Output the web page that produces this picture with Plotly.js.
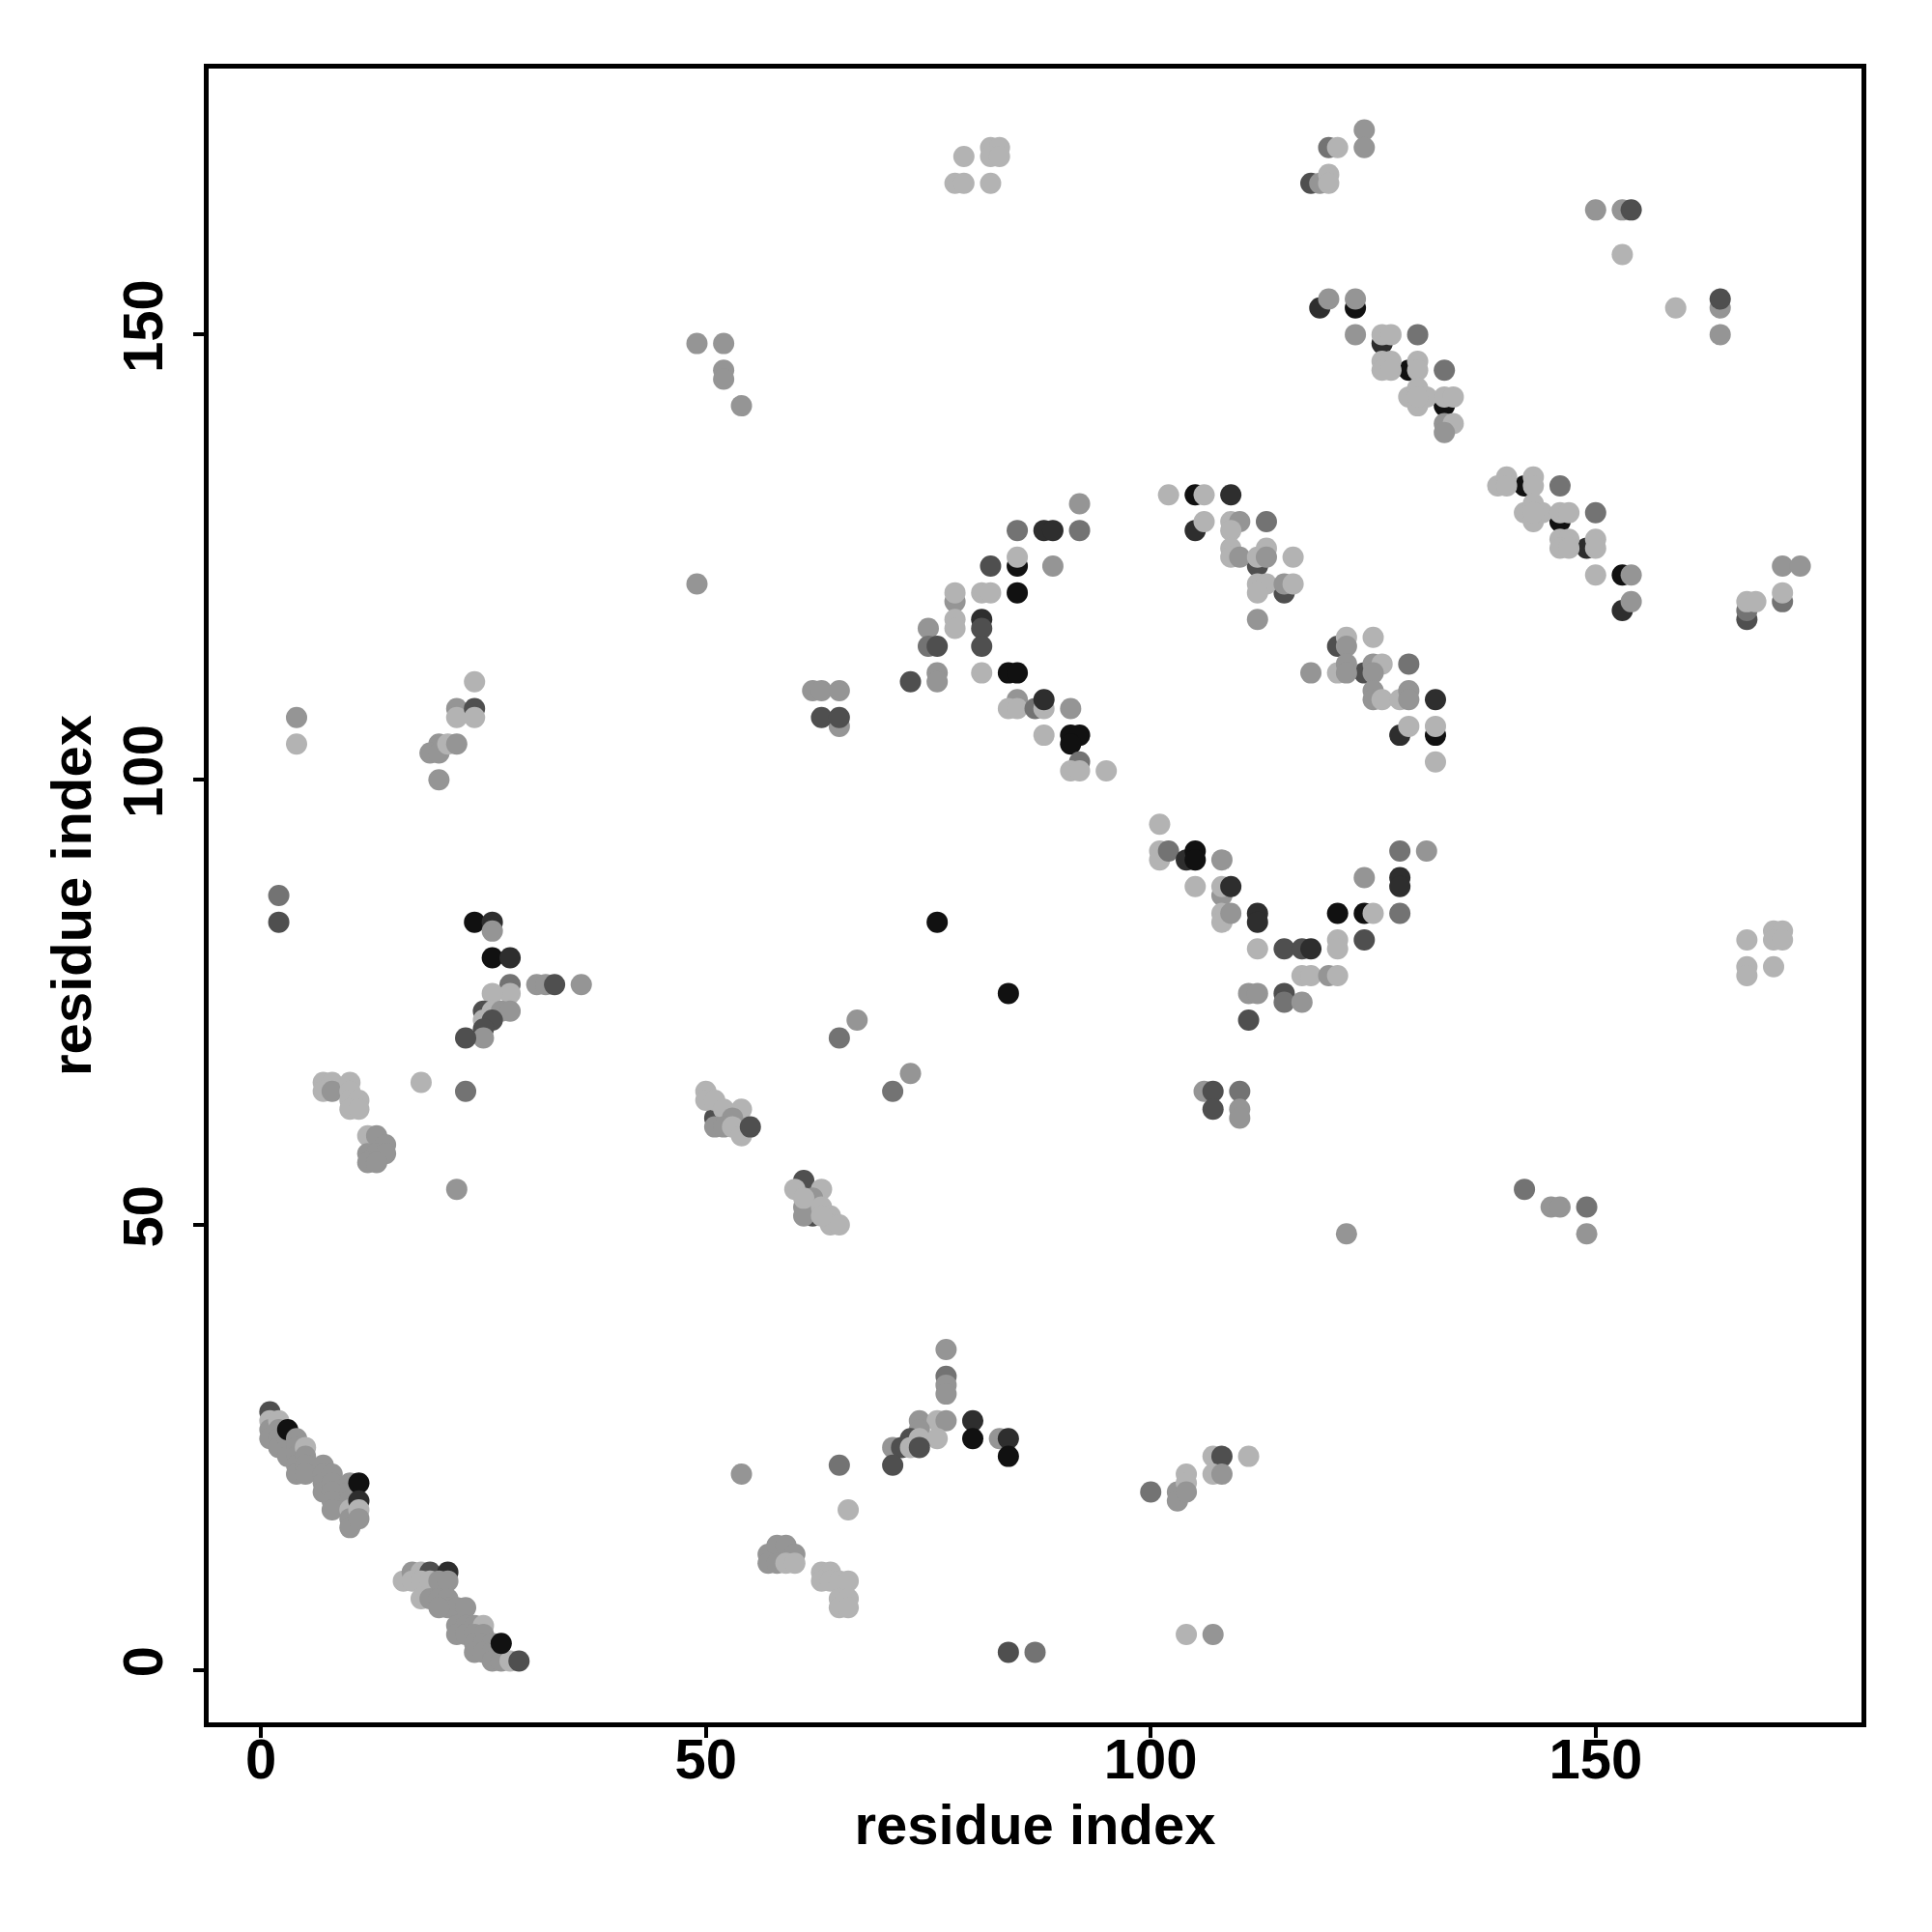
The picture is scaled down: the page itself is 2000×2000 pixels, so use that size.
<!DOCTYPE html>
<html>
<head>
<meta charset="utf-8">
<script src="https://cdn.plot.ly/plotly-3.0.1.min.js"></script>
<style>html,body{margin:0;padding:0;background:#fff;}#chart{width:2000px;height:2000px;}</style>
</head>
<body>
<div id="chart"></div>
<script>
// residue pairs (x index, y index) and shade level (1 = darkest ... 6 = lightest)
const residueX = [
1,1,1,1,2,2,2,2,3,3,3,3,4,4,4,4,4,5,5,5,5,7,7,7,7,8,8,8,8,8,10,10,10,10,10,10,11,11,11,11,
16,17,18,19,21,17,18,19,20,21,18,19,20,21,21,22,23,20,22,23,24,25,22,23,24,25,24,25,26,24,25,26,26,27,28,27,29,
24,22,22,24,24,20,19,20,21,22,20,4,4,2,2,
24,26,26,26,28,28,28,26,31,32,33,36,25,26,27,28,25,26,25,25,23,
7,8,7,8,10,10,10,11,10,11,18,23,13,12,13,14,12,13,14,12,13,22,
77,77,77,77,74,76,77,80,74,73,74,76,80,83,84,71,72,73,74,71,84,65,54,66,
58,57,58,59,60,57,58,59,60,63,64,63,64,65,66,65,66,65,66,84,87,
100,103,103,104,104,104,107,108,111,107,108,104,107,
67,65,73,71,51,52,50,50,51,52,54,53,51,52,53,54,55,
62,61,61,61,60,63,62,61,63,64,64,65,63,
79,82,83,82,83,78,79,82,49,52,52,52,54,49,
92,85,88,89,92,85,85,82,89,78,78,81,82,85,75,78,78,81,81,75,76,81,73,76,76,81,84,85,
62,63,65,65,63,65,85,84,85,87,88,88,91,88,91,92,91,92,91,92,95,76,84,
105,102,106,109,105,106,109,110,109,113,112,109,109,110,112,113,113,116,115,112,113,112,115,116,112,
121,122,122,125,124,118,121,122,122,125,126,125,129,125,125,126,128,129,129,132,128,129,132,132,132,101,
101,101,102,104,105,105,108,105,108,108,109,108,108,109,112,112,112,115,117,118,121,124,125,128,121,121,124,
124,128,128,128,131,117,118,120,121,111,112,115,115,117,111,106,107,110,107,110,110,
124,120,121,124,118,119,120,120,150,153,154,153,159,164,164,164,119,120,123,123,126,123,126,127,130,
129,126,127,126,127,130,130,133,133,129,130,130,131,130,133,134,133,134,133,
142,139,140,140,143,143,146,146,142,143,143,144,143,146,147,150,149,146,147,146,147,150,150,
153,150,154,153,154,167,167,167,168,171,171,171,173,
167,170,171,170,171,167,167,170,142,145,146,149,149,122
];
const residueY = [
29,28,27,26,28,27,26,25,26,25,24,27,26,25,24,23,22,25,24,23,22,23,22,21,20,22,21,20,19,18,21,20,19,18,17,16,21,19,18,17,
10,11,11,11,11,10,10,10,10,10,8,8,8,8,7,7,7,7,5,5,5,5,4,4,4,4,3,3,3,2,2,2,1,1,1,3,1,
111,108,107,108,107,104,103,103,104,104,100,107,104,87,84,
84,84,83,80,80,77,76,76,77,77,77,77,74,74,74,74,73,73,72,71,71,
66,66,65,65,66,65,64,64,63,63,66,65,59,60,60,59,58,58,58,57,57,54,
36,33,32,31,28,28,28,28,27,26,26,26,26,26,26,25,25,25,25,23,24,23,22,18,
13,13,14,14,13,12,12,12,12,11,11,10,10,10,10,8,8,7,7,2,2,
20,20,19,22,21,20,24,24,24,22,22,4,4,
73,71,67,65,62,62,65,64,64,63,63,62,61,61,61,60,61,
51,55,52,51,54,54,53,53,52,51,50,50,51,
170,171,171,170,170,167,167,167,149,149,146,145,142,122,
131,128,128,128,128,124,125,124,124,120,121,121,121,121,117,118,117,118,117,115,115,115,111,112,111,112,112,112,
110,110,110,106,107,107,109,108,108,108,108,109,108,105,105,105,104,102,101,101,101,84,76,
132,132,132,132,128,129,129,129,128,129,124,126,125,125,125,126,125,125,121,122,122,121,122,122,118,
115,116,115,116,112,112,112,113,112,113,113,112,113,110,109,109,109,110,109,109,105,106,105,106,102,95,
92,91,92,91,92,91,91,88,87,88,88,85,84,85,85,84,81,81,81,81,85,85,85,85,82,81,82,
89,89,88,92,92,78,78,78,78,76,76,76,75,75,73,65,65,65,63,63,62,
173,171,171,171,167,167,168,167,164,164,164,159,153,153,154,150,153,154,153,154,149,150,150,150,150,
146,147,147,146,146,147,146,146,142,143,144,142,143,143,143,143,140,140,139,
133,133,134,133,134,133,133,129,130,131,129,130,130,130,130,130,126,127,127,126,126,127,126,
123,123,123,119,120,118,119,120,120,120,121,124,124,
82,83,83,82,82,79,78,79,54,52,52,52,49,49
];
const shadeLevel = [
3,6,5,5,6,5,5,5,5,5,5,1,5,5,5,5,5,6,5,5,5,5,5,5,5,5,5,5,5,5,5,5,5,6,5,5,1,2,6,5,
6,5,6,3,2,6,6,6,5,5,6,5,5,5,5,5,5,5,5,5,5,6,5,5,5,5,5,5,5,5,5,5,5,5,6,1,3,
6,5,6,3,6,5,5,5,6,5,5,5,6,4,3,
1,2,5,1,2,4,6,6,5,5,3,5,3,6,5,5,6,3,3,5,3,
6,6,6,5,6,6,6,6,6,6,6,4,3,6,5,5,5,5,5,5,5,5,
5,4,5,5,5,6,5,2,5,3,6,6,1,5,2,5,3,6,3,3,1,4,5,6,
3,5,5,5,5,5,5,6,6,6,6,6,6,6,6,6,6,6,6,3,4,
4,5,5,6,6,5,6,3,6,6,5,6,5,
5,4,5,4,3,3,6,6,6,6,6,5,5,5,6,6,3,
3,3,5,5,6,6,5,6,6,6,6,6,6,
6,6,6,6,6,6,6,6,5,5,5,5,5,5,
5,4,2,2,4,1,6,3,5,5,6,6,6,1,5,6,6,2,3,4,3,3,3,5,5,6,1,1,
5,5,5,5,3,3,5,6,6,4,6,2,5,6,1,1,1,4,6,6,6,1,1,
1,6,6,2,2,6,6,5,6,4,3,6,6,5,6,6,5,6,3,6,6,6,5,6,5,
3,6,5,6,3,5,6,5,5,5,6,5,4,5,5,6,6,5,5,2,2,6,1,6,6,6,
6,6,4,2,1,1,5,6,5,6,2,6,6,5,2,2,6,3,3,2,1,1,6,4,6,6,3,
5,2,2,4,5,6,6,5,6,5,5,3,4,5,3,5,3,4,3,5,5,
5,4,6,5,3,5,6,6,5,5,3,6,6,5,3,5,2,5,1,5,2,5,6,6,4,
1,6,6,6,6,6,6,4,1,6,6,6,6,6,6,6,5,6,5,
1,6,6,6,6,6,4,1,6,6,6,6,6,6,6,4,2,6,6,6,6,6,6,
1,6,5,2,5,3,4,6,6,4,6,5,5,
6,6,6,6,6,6,6,6,4,5,5,4,5,5
];
const grayPalette = ['#111111', '#2e2e2e', '#4f4f4f', '#737373', '#959595', '#b3b3b3'];
const tickValues = [0, 50, 100, 150];
const axisLabel = 'residue index';

const n = Math.min(residueX.length, residueY.length, shadeLevel.length);
const trace = {
  type: 'scatter',
  mode: 'markers',
  x: residueX.slice(0, n),
  y: residueY.slice(0, n),
  marker: {
    size: 22,
    color: shadeLevel.slice(0, n).map(s => grayPalette[s - 1]),
    line: {width: 0},
    opacity: 1
  },
  hoverinfo: 'x+y',
  showlegend: false
};

const fontFamily = 'Liberation Sans, Arial, Helvetica, sans-serif';
const axisCommon = {
  range: [-5.88, 179.88],
  tickmode: 'array',
  tickvals: tickValues,
  ticktext: tickValues.map(String),
  ticks: 'outside',
  ticklen: 11,
  tickwidth: 4,
  tickcolor: '#000',
  showline: true,
  linecolor: '#000',
  linewidth: 5,
  mirror: true,
  showgrid: false,
  zeroline: false,
  tickfont: {family: fontFamily, size: 58, color: '#000', weight: 'bold'}
};

const layout = {
  width: 2000,
  height: 2000,
  margin: {l: 216, r: 73, t: 71, b: 217, pad: 0},
  paper_bgcolor: '#fff',
  plot_bgcolor: '#fff',
  showlegend: false,
  xaxis: Object.assign({}, axisCommon, {
    ticklabelstandoff: -28,
    title: {text: axisLabel, font: {family: fontFamily, size: 58, color: '#000', weight: 'bold'}, standoff: 18}
  }),
  yaxis: Object.assign({}, axisCommon, {
    tickangle: -90,
    ticklabelstandoff: 9,
    title: {text: axisLabel, font: {family: fontFamily, size: 58, color: '#000', weight: 'bold'}, standoff: 3}
  })
};

Plotly.newPlot('chart', [trace], layout, {displayModeBar: false, staticPlot: true});
</script>
</body>
</html>
